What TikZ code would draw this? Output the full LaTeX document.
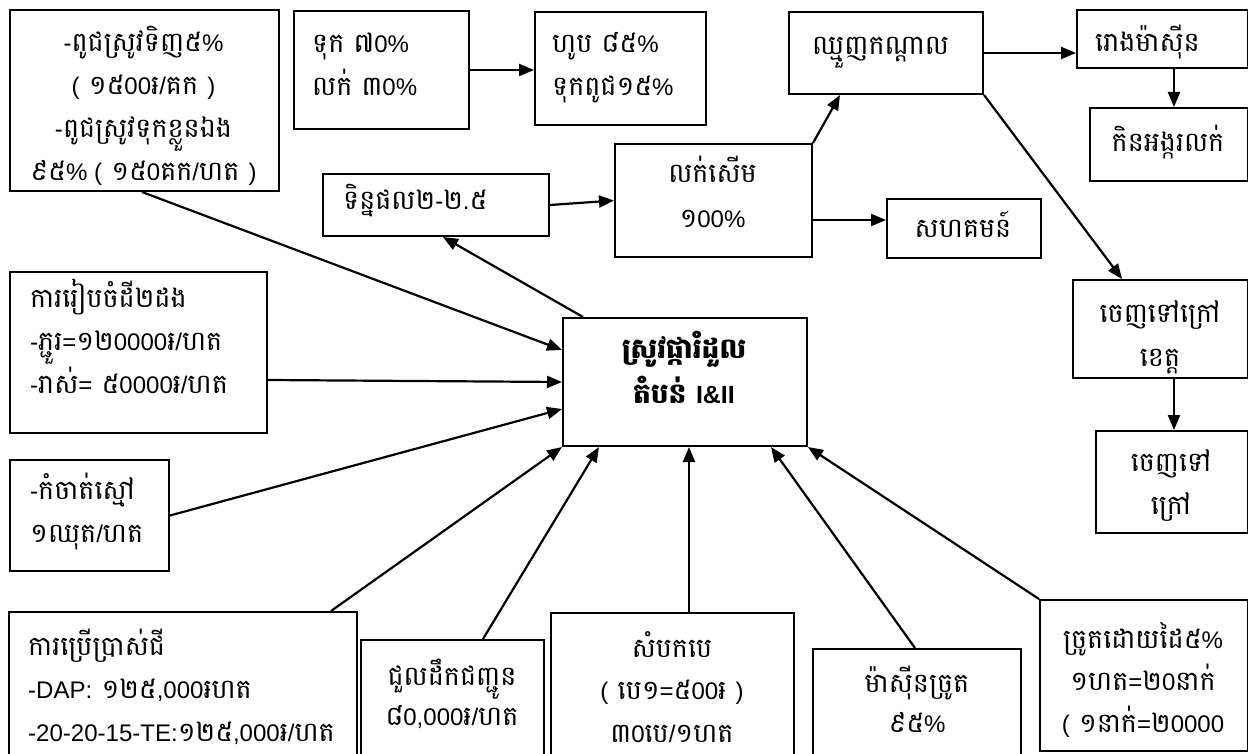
\documentclass[tikz,border=0pt]{standalone}
\usepackage{fontspec}
\setmainfont[Script=Khmer]{Battambang}
\newfontfamily\latf[Scale=0.89]{Liberation Sans}
\newcommand{\la}[1]{{\latf #1}}
\usetikzlibrary{arrows.meta}
\setlength{\lineskiplimit}{-100pt}
\tikzset{
  box/.style={draw, line width=2pt, rectangle, inner sep=0pt, anchor=north west},
  txt/.style={inner sep=0pt, font=\fontsize{27}{43}\selectfont},
  arr/.style={line width=2.2pt, -{Triangle[length=15pt,width=12pt]}},
}
\begin{document}
\begin{tikzpicture}[x=1pt,y=-1pt]
\fill[white] (0,0) rectangle (1248,754);
\useasboundingbox (0,0) rectangle (1248,754);
\clip (0,0) rectangle (1248,754);

% boxes
\node[box, minimum width=269pt, minimum height=181pt] (seed) at (9,9) {};
\node[box, minimum width=175pt, minimum height=118pt] (t70) at (293,10) {};
\node[box, minimum width=171pt, minimum height=113pt] (h85) at (534,11) {};
\node[box, minimum width=226pt, minimum height=62pt] (yield) at (322,173) {};
\node[box, minimum width=197pt, minimum height=113pt] (sellwet) at (614,143) {};
\node[box, minimum width=154pt, minimum height=59pt] (comm) at (886,198) {};
\node[box, minimum width=194pt, minimum height=82pt] (middle) at (788,11) {};
\node[box, minimum width=171pt, minimum height=58pt] (mill) at (1076,9) {};
\node[box, minimum width=158pt, minimum height=73pt] (milled) at (1089,107) {};
\node[box, minimum width=175pt, minimum height=98pt] (outprov) at (1072,279) {};
\node[box, minimum width=152pt, minimum height=102pt] (out) at (1095,430) {};
\node[box, minimum width=244pt, minimum height=128pt] (central) at (562,317) {};
\node[box, minimum width=257pt, minimum height=161pt] (prep) at (9,271) {};
\node[box, minimum width=159pt, minimum height=111pt] (weed) at (9,459) {};
\node[box, minimum width=348pt, minimum height=160pt] (fert) at (8,611) {};
\node[box, minimum width=183pt, minimum height=130pt] (transport) at (360,639) {};
\node[box, minimum width=243pt, minimum height=160pt] (bags) at (550,612) {};
\node[box, minimum width=208pt, minimum height=130pt] (harvester) at (812,648) {};
\node[box, minimum width=208pt, minimum height=151pt] (hand) at (1039,599) {};

% texts (multi-line: anchor base = baseline of the last line)
\node[txt, align=center, anchor=base] (seedT) at (143.5,181)
  {\la{-}ពូជស្រូវទិញ៥\la{\%}\\\la{(} ១៥\la{00}៛\la{/}គក \la{)}\\\la{-}ពូជស្រូវទុកខ្លួនឯង\\៩៥\la{\% (} ១៥\la{0}គក\la{/}ហត \la{)}};
\node[txt, align=left, anchor=base west] (t70T) at (312,96)
  {ទុក ៧\la{0\%}\\លក់ ៣\la{0\%}};
\node[txt, align=left, anchor=base west] (h85T) at (552,96)
  {ហូប ៨៥\la{\%}\\ទុកពូជ១៥\la{\%}};
\node[txt, anchor=base west] (yieldT) at (343,210) {ទិន្នផល២\la{-}២\la{.}៥};
\node[txt, align=center, anchor=base, font=\fontsize{27}{45}\selectfont] (sellwetT) at (712.5,228)
  {លក់សើម\\១\la{00\%}};
\node[txt, anchor=base] (commT) at (963,238) {សហគមន៍};
\node[txt, anchor=base west] (middleT) at (812,55) {ឈ្មួញកណ្ដាល};
\node[txt, anchor=base west] (millT) at (1095,52) {រោងម៉ាស៊ីន};
\node[txt, anchor=base] (milledT) at (1168,152) {កិនអង្ករលក់};
\node[txt, align=center, anchor=base, font=\fontsize{27}{44}\selectfont] (outprovT) at (1160,366)
  {ចេញទៅក្រៅ\\ខេត្ត};
\node[txt, align=center, anchor=base] (outT) at (1171,514)
  {ចេញទៅ\\ក្រៅ};
\node[txt, align=center, anchor=base, font=\fontsize{28}{45}\selectfont\bfseries] (centralT) at (684,403)
  {ស្រូវផ្ការំដួល\\តំបន់ \la{I\&II}};
\node[txt, align=left, anchor=base west] (prepT) at (30,393)
  {ការរៀបចំដី២ដង\\\la{-}ភ្ជួរ\la{=}១២\la{0000}៛\la{/}ហត\\\la{-}រាស់\la{=} ៥\la{0000}៛\la{/}ហត};
\node[txt, align=left, anchor=base west] (weedT) at (30,542)
  {\la{-}កំចាត់ស្មៅ\\១ឈុត\la{/}ហត};
\node[txt, align=left, anchor=base west] (fertT) at (28,741)
  {ការប្រើប្រាស់ជី\\\la{-DAP:} ១២៥\la{,000}៛ហត\\\la{-20-20-15-TE:}១២៥\la{,000}៛\la{/}ហត};
\node[txt, align=center, anchor=base, font=\fontsize{27}{40}\selectfont] (transportT) at (452,725)
  {ជួលដឹកជញ្ជូន\\៨\la{0,000}៛\la{/}ហត};
\node[txt, align=center, anchor=base, font=\fontsize{27}{42.5}\selectfont] (bagsT) at (672,742)
  {សំបកបេ\\\la{(} បេ១\la{=}៥\la{00}៛ \la{)}\\៣\la{0}បេ\la{/}១ហត};
\node[txt, align=center, anchor=base, font=\fontsize{27}{40}\selectfont] (harvesterT) at (917,732)
  {ម៉ាស៊ីនច្រូត\\៩៥\la{\%}};
\node[txt, align=center, anchor=base, font=\fontsize{27}{42}\selectfont] (handT) at (1143,732)
  {ច្រូតដោយដៃ៥\la{\%}\\១ហត\la{=}២\la{0}នាក់\\\la{(} ១នាក់\la{=}២\la{0000}};

% connectors into the central box
\draw[arr] ([xshift=133pt]seed.south west) -- ([yshift=-33pt]central.north west);
\draw[arr] ([yshift=-27.5pt]prep.east) -- (central.west);
\draw[arr] (weed.east) -- ([yshift=-27pt]central.west);
\draw[arr] ([xshift=323pt]fert.north west) -- (central.south west);
\draw[arr] ([xshift=123pt]transport.north west) -- ([xshift=37pt]central.south west);
\draw[arr] ([xshift=16.5pt]bags.north) -- ([xshift=4pt]central.south);
\draw[arr] ([xshift=103pt]harvester.north west) -- ([xshift=-37pt]central.south east);
\draw[arr] (hand.north west) -- (central.south east);
% outputs
\draw[arr] ([xshift=21pt]central.north west) -- ([xshift=121pt]yield.south west);
\draw[arr] (yield.east) -- (sellwet.west);
\draw[arr] ([yshift=-19.5pt]sellwet.east) -- ([yshift=8.5pt]comm.west);
\draw[arr] (sellwet.north east) -- ([xshift=52pt]middle.south west);
\draw[arr] (t70.east) -- (t70.east -| h85.west);
\draw[arr] (middle.east) -- (middle.east -| mill.west);
\draw[arr] ([xshift=11.5pt]mill.south) -- ([xshift=11.5pt]mill.south |- milled.north);
\draw[arr] (middle.south east) -- ([xshift=50pt]outprov.north west);
\draw[arr] ([xshift=13.5pt]outprov.south) -- ([xshift=13.5pt]outprov.south |- out.north);
\end{tikzpicture}
\end{document}
